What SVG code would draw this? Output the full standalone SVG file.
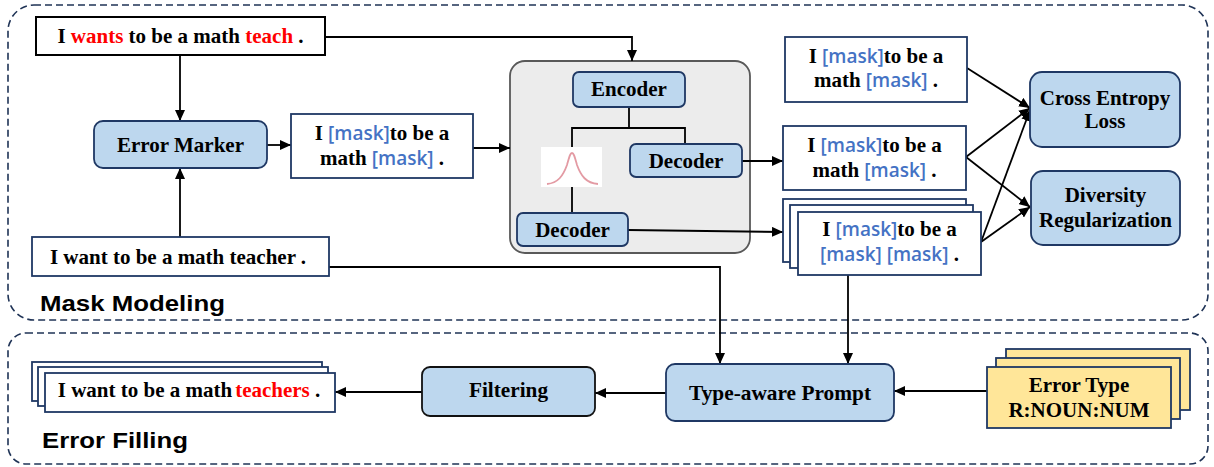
<svg xmlns="http://www.w3.org/2000/svg" width="1214" height="467" viewBox="0 0 1214 467">
<style>
.t{font-family:"Liberation Serif","Times New Roman",serif;font-weight:bold;font-size:21px;fill:#000}
.m{font-family:"Open Sans","Liberation Sans",Arial,sans-serif;font-weight:600;font-size:19px;fill:#4472c4}
.r{fill:#ff0000}
.lbl{font-family:"Liberation Sans",Arial,sans-serif;font-weight:bold;font-size:22px;fill:#000}
.sec{fill:none;stroke:#1f3356;stroke-width:1.6;stroke-dasharray:7 4}
.box{fill:#fff;stroke:#1f3864;stroke-width:1.8}
.blue{fill:#bdd7ee;stroke:#1f3864;stroke-width:1.8}
.yel{fill:#ffe699;stroke:#1f3864;stroke-width:1.8}
.ln{fill:none;stroke:#000;stroke-width:1.8}
.ar{fill:none;stroke:#000;stroke-width:1.8;marker-end:url(#ah)}
</style>
<defs>
<marker id="ah" markerUnits="userSpaceOnUse" markerWidth="12" markerHeight="10" refX="11" refY="5" orient="auto">
<path d="M0,0 L11,5 L0,10 z" fill="#000"/>
</marker>
</defs>

<g id="section-mask-modeling">
<rect class="sec" x="8" y="5" width="1200" height="315" rx="26"/>
<text class="lbl" x="40" y="311" textLength="185" lengthAdjust="spacingAndGlyphs">Mask Modeling</text>
</g>
<g id="section-error-filling">
<rect class="sec" x="8" y="333" width="1200" height="131" rx="18"/>
<text class="lbl" x="42" y="448" textLength="146" lengthAdjust="spacingAndGlyphs">Error Filling</text>
</g>

<g id="model">
<rect x="510" y="61" width="240" height="192" rx="15" fill="#ececec" stroke="#595959" stroke-width="1.8"/>
</g>

<g id="connectors">
<polyline class="ar" points="325,37 632,37 632,61"/>
<line class="ar" x1="180" y1="55" x2="180" y2="121"/>
<line class="ar" x1="180" y1="237" x2="180" y2="168"/>
<line class="ar" x1="267" y1="145" x2="291" y2="145"/>
<line class="ar" x1="473" y1="148" x2="510" y2="148"/>
<polyline class="ln" points="629,107 629,128"/>
<polyline class="ln" points="572,147 572,128 685,128 685,144"/>
<line class="ln" x1="572" y1="187" x2="572" y2="213"/>
<line class="ar" x1="742" y1="161" x2="783" y2="161"/>
<line class="ar" x1="628" y1="230" x2="783" y2="232"/>
<line class="ar" x1="967" y1="68" x2="1030" y2="108"/>
<line class="ar" x1="966" y1="157" x2="1030" y2="108"/>
<line class="ar" x1="966" y1="157" x2="1030" y2="207"/>
<line class="ar" x1="981" y1="242" x2="1030" y2="110"/>
<line class="ar" x1="981" y1="242" x2="1030" y2="207"/>
<polyline class="ar" points="329,267 720,267 720,364"/>
<line class="ar" x1="848" y1="275" x2="848" y2="364"/>
<line class="ar" x1="987" y1="391" x2="894" y2="391"/>
<line class="ar" x1="666" y1="393" x2="595" y2="393"/>
<line class="ar" x1="422" y1="392" x2="335" y2="392"/>
</g>

<g id="input-erroneous">
<rect x="36" y="17" width="289" height="38" fill="#fff" stroke="#000" stroke-width="2"/>
<text class="t" x="180.5" y="43" text-anchor="middle">I <tspan class="r">wants</tspan> to be a math <tspan class="r">teach</tspan> .</text>
</g>

<g id="error-marker">
<rect class="blue" x="94" y="121" width="173" height="47" rx="9"/>
<text class="t" x="180.5" y="152" text-anchor="middle">Error Marker</text>
</g>

<g id="masked-input">
<rect class="box" x="291" y="114" width="182" height="64"/>
<text class="t" x="382" y="140" text-anchor="middle">I <tspan class="m">[mask]</tspan>to be a</text>
<text class="t" x="382" y="165" text-anchor="middle">math <tspan class="m">[mask]</tspan> .</text>
</g>

<g id="input-correct">
<rect class="box" x="32" y="237" width="297" height="39"/>
<text class="t" x="178" y="264" text-anchor="middle">I want to be a math teacher .</text>
</g>

<g id="encoder">
<rect class="blue" x="573" y="72" width="112" height="35" rx="6"/>
<text class="t" x="629" y="96" text-anchor="middle">Encoder</text>
</g>
<g id="gaussian">
<rect x="541" y="147" width="61" height="40" fill="#fff"/>
<path d="M547,184 C558,183 563,176 567,165 C569,158 570,153 572,153 C574,153 575,158 577,165 C581,176 586,183 598,184" fill="none" stroke="#e39aa3" stroke-width="1.8"/>
</g>
<g id="decoder-1">
<rect class="blue" x="630" y="144" width="112" height="33" rx="6"/>
<text class="t" x="686" y="168" text-anchor="middle">Decoder</text>
</g>
<g id="decoder-2">
<rect class="blue" x="517" y="213" width="111" height="33" rx="6"/>
<text class="t" x="572.5" y="237" text-anchor="middle">Decoder</text>
</g>

<g id="output-a">
<rect class="box" x="785" y="37" width="182" height="65"/>
<text class="t" x="876" y="63" text-anchor="middle">I <tspan class="m">[mask]</tspan>to be a</text>
<text class="t" x="876" y="87" text-anchor="middle">math <tspan class="m">[mask]</tspan> .</text>
</g>
<g id="output-b">
<rect class="box" x="783" y="126" width="183" height="64"/>
<text class="t" x="874.5" y="152" text-anchor="middle">I <tspan class="m">[mask]</tspan>to be a</text>
<text class="t" x="874.5" y="177" text-anchor="middle">math <tspan class="m">[mask]</tspan> .</text>
</g>
<g id="output-c">
<rect class="box" x="783" y="199" width="183" height="63"/>
<rect class="box" x="790" y="205" width="183" height="63"/>
<rect class="box" x="798" y="212" width="183" height="63"/>
<text class="t" x="889.5" y="236" text-anchor="middle">I <tspan class="m">[mask]</tspan>to be a</text>
<text class="t" x="889.5" y="261" text-anchor="middle"><tspan class="m">[mask] [mask]</tspan> .</text>
</g>

<g id="cross-entropy">
<rect class="blue" x="1030" y="72" width="150" height="75" rx="12"/>
<text class="t" x="1105" y="105" text-anchor="middle">Cross Entropy</text>
<text class="t" x="1105" y="128" text-anchor="middle">Loss</text>
</g>
<g id="diversity">
<rect class="blue" x="1031" y="171" width="149" height="74" rx="12"/>
<text class="t" x="1105.5" y="202" text-anchor="middle">Diversity</text>
<text class="t" x="1105.5" y="227" text-anchor="middle">Regularization</text>
</g>

<g id="type-aware-prompt">
<rect class="blue" x="666" y="364" width="228" height="57" rx="9"/>
<text class="t" x="780" y="400" text-anchor="middle" font-size="22" textLength="182" lengthAdjust="spacingAndGlyphs">Type-aware Prompt</text>
</g>
<g id="filtering">
<rect x="422" y="367" width="173" height="49" rx="8" fill="#bdd7ee" stroke="#111" stroke-width="1.8"/>
<text class="t" x="508.5" y="397" text-anchor="middle" font-size="22" textLength="79" lengthAdjust="spacingAndGlyphs">Filtering</text>
</g>
<g id="error-type">
<rect class="yel" x="1006" y="349" width="184" height="61"/>
<rect class="yel" x="996" y="358" width="184" height="61"/>
<rect class="yel" x="987" y="367" width="184" height="61"/>
<text class="t" x="1079" y="392" text-anchor="middle">Error Type</text>
<text class="t" x="1079" y="417" text-anchor="middle">R:NOUN:NUM</text>
</g>

<g id="result">
<rect class="box" x="32" y="362" width="290" height="39"/>
<rect class="box" x="38" y="367" width="290" height="39"/>
<rect class="box" x="45" y="373" width="290" height="39"/>
<text class="t" x="189" y="397" text-anchor="middle">I want to be a math<tspan class="r" dx="3">teachers</tspan> .</text>
</g>
</svg>
